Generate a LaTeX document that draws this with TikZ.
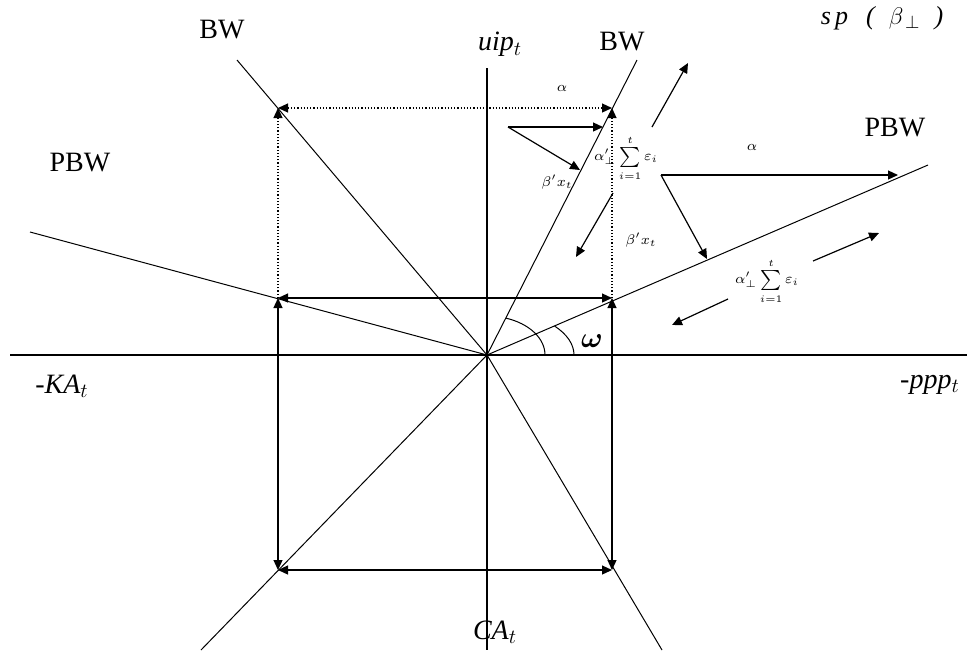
\documentclass[tikz,border=0pt]{standalone}
\usepackage{fontspec}
\setmainfont{Liberation Serif}
\usepackage{bm}
\usepackage{tikz}
\usetikzlibrary{arrows.meta,calc}
\definecolor{ink}{HTML}{000000}
\tikzset{
  axisline/.style = {draw=ink, line width=0.6pt},
  wline/.style    = {draw=ink, line width=0.5pt},
  flow/.style     = {-{Triangle[length=5pt,width=4.5pt]}, draw=ink, line width=0.6pt},
  twoway/.style   = {{Triangle[length=5pt,width=4.5pt]}-{Triangle[length=5pt,width=4.5pt]},
                     draw=ink, line width=0.6pt},
  guide/.style    = {densely dotted, draw=ink, line width=0.6pt},
  wname/.style    = {font=\fontsize{14}{16}\selectfont, text=ink},
  axlbl/.style    = {font=\fontsize{14}{16}\selectfont\itshape, text=ink},
  tiny/.style     = {font=\fontsize{7}{8}\selectfont, text=ink, inner sep=1pt},
}

\begin{document}
\begin{tikzpicture}[x=0.5pt, y=-0.5pt]
  \useasboundingbox (0,0) rectangle (969,660);

  % origin, axes ends
  \coordinate (O)  at (487,355);
  \coordinate (xl) at (10,355);
  \coordinate (xr) at (967,355);
  \coordinate (yt) at (487,68);
  \coordinate (yb) at (487,650);
  % ends of the BW and PBW lines
  \coordinate (bwA)  at (237,60);
  \coordinate (bwB)  at (662,650);
  \coordinate (bwC)  at (637,60);
  \coordinate (bwD)  at (201,650);
  \coordinate (pbwA) at (30,232);
  \coordinate (pbwB) at (928,165);
  % corners of the box
  \coordinate (ul) at (278,108);
  \coordinate (ur) at (612,108);
  \coordinate (ml) at (278,298);
  \coordinate (mr) at (612,298);
  \coordinate (ll) at (278,570);
  \coordinate (lr) at (612,570);

  % axes
  \draw[axisline] (xl) -- (xr);
  \draw[axisline] (yt) -- (yb);
  \node[axlbl, anchor=south] at (500,64) {uip$_{t}$};
  \node[axlbl] at (62,386) {-KA$_{t}$};
  \node[axlbl] at (930,385) {-ppp$_{t}$};
  \node[axlbl] at (495,632) {CA$_{t}$};

  % lines through the origin
  \draw[wline] (bwA) -- (O) -- (bwB);
  \draw[wline] (bwC) -- (O) -- (bwD);
  \draw[wline] (pbwA) -- (O) -- (pbwB);
  \node[wname] at (222,30) {BW};
  \node[wname] at (622,42) {BW};
  \node[wname] at (80,163) {PBW};
  \node[wname] at (895,128) {PBW};
  \node[font=\fontsize{13}{15}\selectfont] at (882,18)
    {\itshape s\,p\hspace{9pt}(\hspace{7pt}$\beta_{\,\perp}$\hspace{7pt})};

  % box
  \draw[guide, twoway] (ul) -- (ur);
  \draw[guide, flow] (ml) -- (ul);
  \draw[guide, flow] (mr) -- (ur);
  \draw[twoway] (ml) -- (mr);
  \draw[twoway] (ll) -- (lr);
  \draw[twoway] (ml) -- (ll);
  \draw[twoway] (mr) -- (lr);
  \node[tiny] at (562,88) {$\alpha$};

  % angles
  \draw[wline] (O) ++(29pt,0) arc[start angle=0, end angle=71, x radius=29pt, y radius=19.5pt];
  \draw[wline] (O) ++(43.5pt,0) arc[start angle=0, end angle=39, x radius=43.5pt, y radius=23pt];
  \node[font=\fontsize{14}{16}\selectfont] at (592,341) {$\bm{\omega}$};

  % shifts along BW
  \coordinate (a1s) at (508,127);
  \coordinate (a1e) at (603,127);
  \coordinate (a2e) at (580,170);
  \coordinate (a3s) at (652,127);
  \coordinate (a3e) at (688,63);
  \coordinate (a4s) at (613,193);
  \coordinate (a4e) at (576,257);
  \draw[flow] (a1s) -- (a1e);
  \draw[flow] (a1s) -- (a2e);
  \draw[flow] (a3s) -- (a3e);
  \draw[flow] (a4s) -- (a4e);
  \node[tiny] at (557,182) {$\beta' x_{t}$};
  \node[tiny] at (626,158) {$\alpha'_{\perp}\sum\limits_{i=1}^{t}\varepsilon_{i}$};
  \node[tiny] at (641,240) {$\beta' x_{t}$};

  % shifts along PBW
  \coordinate (b1s) at (661,175);
  \coordinate (b1e) at (898,175);
  \coordinate (b2e) at (707,259);
  \coordinate (b3s) at (813,261);
  \coordinate (b3e) at (879,233);
  \coordinate (b4s) at (728,299);
  \coordinate (b4e) at (672,325);
  \draw[flow] (b1s) -- (b1e);
  \draw[flow] (b1s) -- (b2e);
  \draw[flow] (b3s) -- (b3e);
  \draw[flow] (b4s) -- (b4e);
  \node[tiny] at (752,147) {$\alpha$};
  \node[tiny] at (767,281) {$\alpha'_{\perp}\sum\limits_{i=1}^{t}\varepsilon_{i}$};
\end{tikzpicture}
\end{document}
